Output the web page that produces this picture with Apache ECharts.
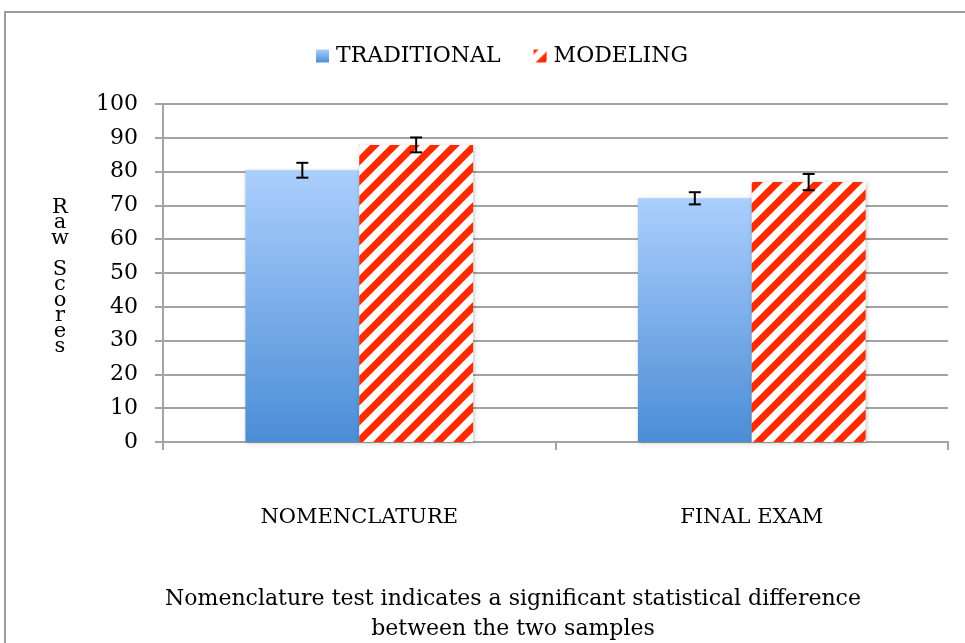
<!DOCTYPE html>
<html>
<head>
<meta charset="utf-8">
<script src="https://cdn.jsdelivr.net/npm/echarts@6/dist/echarts.min.js"></script>
<style>html,body{margin:0;padding:0;background:#fff}#c{width:965px;height:643px}</style>
</head>
<body>
<div id="c"></div>
<script>
var categories = ['NOMENCLATURE', 'FINAL EXAM'];
var seriesNames = ['TRADITIONAL', 'MODELING'];
var traditional = [80.4, 72.1];
var modeling = [87.9, 76.9];
var traditionalErr = [2.2, 1.8];
var modelingErr = [2.2, 2.4];
var yTicks = [0, 10, 20, 30, 40, 50, 60, 70, 80, 90, 100];
var yAxisTitle = 'Raw Scores';
var note = 'Nomenclature test indicates a significant statistical difference\nbetween the two samples';

var FONT = 'DejaVu Serif';
var GRAY = '#a3a3a3';

// stripe pattern
var pc = document.createElement('canvas');
pc.width = 20; pc.height = 20;
var ctx = pc.getContext('2d');
ctx.fillStyle = '#ffffff';
ctx.fillRect(0, 0, 20, 20);
ctx.strokeStyle = '#ff2a00';
ctx.lineWidth = 7;
[0, 20, 40].forEach(function (k) {
  ctx.beginPath();
  ctx.moveTo(k - 30, 30);
  ctx.lineTo(k + 30, -30);
  ctx.stroke();
});
var stripe = { image: pc, repeat: 'repeat' };
var blueGrad = new echarts.graphic.LinearGradient(0, 0, 0, 1, [
  { offset: 0, color: '#abcffd' },
  { offset: 1, color: '#4b8dd6' }
]);

var GAP = 0.42;
function errItem(idx, errArr, valArr) {
  return function (params, api) {
    var i = params.dataIndex;
    var v = valArr[i], e = errArr[i];
    var catW = api.size([1, 0])[0];
    var bw = catW * (1 - GAP) / 2;
    var c = api.coord([i, v]);
    var x = c[0] + (idx === 0 ? -bw / 2 : bw / 2);
    var top = api.coord([i, v + e])[1];
    var bot = api.coord([i, v - e])[1];
    var st = { stroke: '#000', lineWidth: 2 };
    return {
      type: 'group',
      children: [
        { type: 'line', shape: { x1: x, y1: top, x2: x, y2: bot }, style: st },
        { type: 'line', shape: { x1: x - 6, y1: top, x2: x + 6, y2: top }, style: st },
        { type: 'line', shape: { x1: x - 6, y1: bot, x2: x + 6, y2: bot }, style: st }
      ]
    };
  };
}

var chart = echarts.init(document.getElementById('c'), null, { renderer: 'canvas' });
chart.setOption({
  animation: false,
  backgroundColor: '#fff',
  textStyle: { fontFamily: FONT },
  legend: {
    data: seriesNames,
    left: 316,
    top: 45,
    padding: 0,
    itemWidth: 13,
    itemHeight: 13,
    itemGap: 33,
    icon: 'rect',
    textStyle: { fontFamily: FONT, fontSize: 22, color: '#000', padding: [0, 0, 0, 2] }
  },
  grid: { left: 163, right: 17, top: 104, bottom: 201 },
  xAxis: {
    type: 'category',
    data: categories,
    axisLine: { lineStyle: { color: GRAY, width: 2 } },
    axisTick: { show: true, length: 8, lineStyle: { color: GRAY, width: 2 } },
    axisLabel: { margin: 65, fontFamily: FONT, fontSize: 21, color: '#000' }
  },
  yAxis: {
    type: 'value',
    min: yTicks[0],
    max: yTicks[yTicks.length - 1],
    interval: 10,
    axisLine: { show: true, lineStyle: { color: GRAY, width: 2 } },
    axisTick: { show: true, length: 8, lineStyle: { color: GRAY, width: 2 } },
    splitLine: { lineStyle: { color: GRAY, width: 2 } },
    axisLabel: { margin: 25, fontFamily: FONT, fontSize: 22, color: '#000' }
  },
  series: [
    {
      name: seriesNames[0], type: 'bar', data: traditional,
      barGap: '0%', barCategoryGap: (GAP * 100) + '%',
      itemStyle: { color: blueGrad, shadowBlur: 4, shadowColor: 'rgba(0,0,0,0.25)', shadowOffsetX: 1, shadowOffsetY: 1 }
    },
    {
      name: seriesNames[1], type: 'bar', data: modeling,
      barGap: '0%', barCategoryGap: (GAP * 100) + '%',
      itemStyle: { color: stripe, shadowBlur: 4, shadowColor: 'rgba(0,0,0,0.25)', shadowOffsetX: 1, shadowOffsetY: 1 }
    },
    {
      type: 'custom', name: 'errT', data: traditional.map(function (v, i) { return [i, v]; }),
      renderItem: errItem(0, traditionalErr, traditional), z: 10, silent: true
    },
    {
      type: 'custom', name: 'errM', data: modeling.map(function (v, i) { return [i, v]; }),
      renderItem: errItem(1, modelingErr, modeling), z: 10, silent: true
    }
  ],
  graphic: [
    { type: 'rect', shape: { x: 5, y: 12, width: 1000, height: 700 }, style: { fill: 'none', stroke: '#9c9c9c', lineWidth: 2 }, silent: true },
    { type: 'text', x: 60, y: 277, style: { text: yAxisTitle.split('').join('\n'), font: '21px "DejaVu Serif"', fill: '#000', textAlign: 'center', textVerticalAlign: 'middle', lineHeight: 15.5 } },
    { type: 'text', x: 513, y: 584, style: { text: note, font: '22px "DejaVu Serif"', fill: '#000', textAlign: 'center', lineHeight: 30 } }
  ]
});
</script>
</body>
</html>
